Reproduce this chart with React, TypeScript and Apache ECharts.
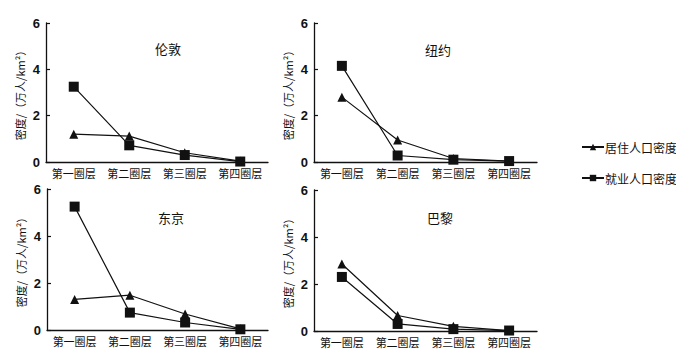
import React, { useEffect, useRef } from "react";
import * as echarts from "echarts";

const categories = ["第一圈层", "第二圈层", "第三圈层", "第四圈层"];
const cities = ["伦敦", "纽约", "东京", "巴黎"];
const seriesNames = ["居住人口密度", "就业人口密度"];
const londonRes = [1.2, 1.12, 0.4, 0.04];
const londonJob = [3.25, 0.72, 0.3, 0.02];
const nyRes = [2.8, 0.95, 0.15, 0.04];
const nyJob = [4.15, 0.28, 0.1, 0.04];
const tokyoRes = [1.3, 1.48, 0.68, 0.05];
const tokyoJob = [5.25, 0.74, 0.32, 0.03];
const parisRes = [2.85, 0.66, 0.2, 0.02];
const parisJob = [2.3, 0.3, 0.08, 0.02];
const yTicks = [0, 2, 4, 6];
const yName = "密度/（万人/km²）";

const resData = [londonRes, nyRes, tokyoRes, parisRes];
const jobData = [londonJob, nyJob, tokyoJob, parisJob];

export default function App() {
  const ref = useRef<HTMLDivElement>(null);
  useEffect(() => {
    if (!ref.current) return;
    const chart = echarts.init(ref.current, null, { renderer: "svg" });
    const ink = "#111";
    const grids = [
      { left: 46, top: 23, width: 222, height: 139 },
      { left: 314, top: 23, width: 223, height: 139 },
      { left: 47, top: 189, width: 221, height: 141 },
      { left: 314, top: 190, width: 223, height: 141 },
    ];
    const titlePos = [
      [168, 48],
      [438, 49],
      [171, 217],
      [440, 217],
    ];
    const xAxes = grids.map((_, i) => ({
      type: "category",
      gridIndex: i,
      data: categories,
      boundaryGap: true,
      axisLine: { lineStyle: { color: ink, width: 1.3 } },
      axisTick: { inside: true, length: 4, lineStyle: { color: ink, width: 1.2 } },
      axisLabel: { color: ink, fontSize: 11, margin: 5, interval: 0, fontFamily: "Noto Sans CJK SC" },
    }));
    const yAxes = grids.map((_, i) => ({
      type: "value",
      gridIndex: i,
      min: yTicks[0],
      max: yTicks[yTicks.length - 1],
      interval: 2,
      name: yName,
      nameLocation: "middle",
      nameRotate: 90,
      nameGap: 21,
      nameTextStyle: { color: ink, fontSize: 11, fontFamily: "Noto Sans CJK SC" },
      splitLine: { show: false },
      axisLine: { show: true, lineStyle: { color: ink, width: 1.3 } },
      axisTick: { show: true, inside: true, length: 4, lineStyle: { color: ink, width: 1.2 } },
      axisLabel: { color: ink, fontSize: 13, fontWeight: "bold", margin: 6, fontFamily: "Liberation Sans" },
    }));
    const series: any[] = [];
    for (let i = 0; i < 4; i++) {
      series.push({
        name: seriesNames[0],
        type: "line",
        xAxisIndex: i,
        yAxisIndex: i,
        data: resData[i],
        symbol: "triangle",
        symbolSize: 9,
        lineStyle: { color: ink, width: 1.2 },
        itemStyle: { color: ink },
        z: 3,
      });
      series.push({
        name: seriesNames[1],
        type: "line",
        xAxisIndex: i,
        yAxisIndex: i,
        data: jobData[i],
        symbol: "rect",
        symbolSize: 10,
        lineStyle: { color: ink, width: 1.2 },
        itemStyle: { color: ink },
        z: 4,
      });
    }
    chart.setOption({
      animation: false,
      backgroundColor: "#fff",
      grid: grids,
      xAxis: xAxes,
      yAxis: yAxes,
      series,
      legend: {
        orient: "vertical",
        left: 576,
        top: 136,
        itemWidth: 22,
        itemHeight: 8,
        itemGap: 19,
        data: seriesNames,
        textStyle: { color: ink, fontSize: 12, fontFamily: "Noto Sans CJK SC", padding: [0, 0, 0, -4] },
      },
      graphic: cities.map((c, i) => ({
        type: "text",
        x: titlePos[i][0],
        y: titlePos[i][1],
        style: {
          text: c,
          fill: ink,
          font: "13px 'Noto Sans CJK SC'",
          align: "center",
          verticalAlign: "middle",
        },
      })),
    });
    return () => chart.dispose();
  }, []);
  return (
    <div
      ref={ref}
      style={{ position: "fixed", left: 0, top: 0, width: 676, height: 362, background: "#fff" }}
    />
  );
}
